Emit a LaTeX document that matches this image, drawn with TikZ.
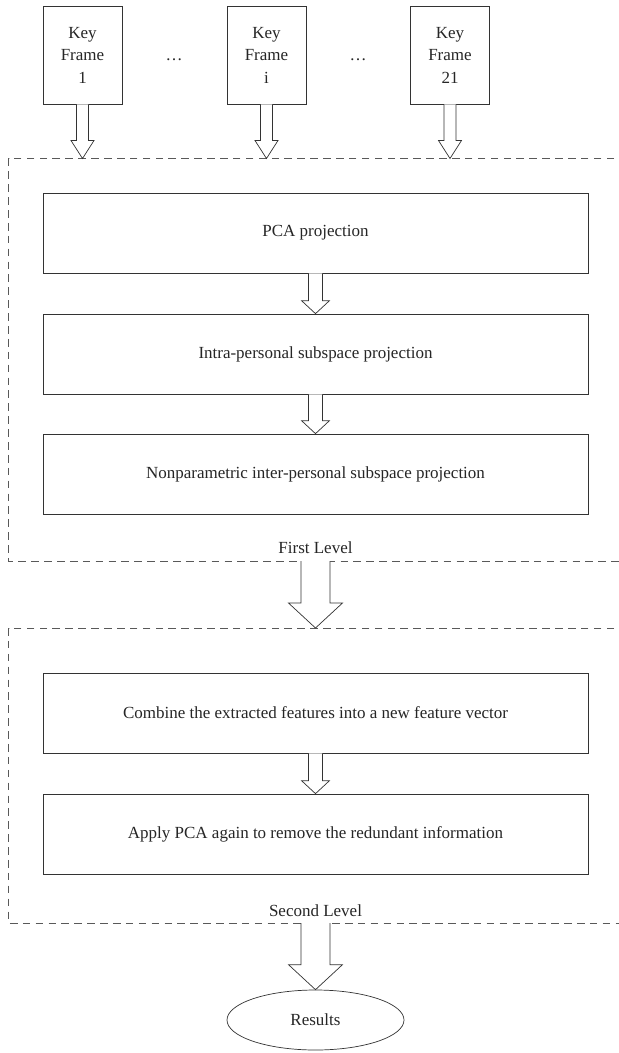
\documentclass[tikz,border=0pt]{standalone}
\usepackage{fontspec}
\setmainfont{Liberation Serif}
\usetikzlibrary{calc}
\usetikzlibrary{shapes.geometric}
\tikzset{every node/.style={font=\fontsize{14.5}{19.2}\selectfont, text=black!85},
framebox/.style={draw=black!80, line width=.6pt, minimum width=2.37cm, minimum height=2.94cm, align=center},
stagebox/.style={draw=black!80, line width=.6pt, minimum width=16.35cm, minimum height=2.4cm},
levelbox/.style={draw=black!65, line width=.6pt, dash pattern=on 6.5pt off 4.5pt},
fatline/.style={draw=black!80, fill=white, line width=.6pt}}
% block arrow: from, to, half shaft, half head, head length
\newcommand{\fatarrow}[5]{\draw[fatline] ($(#1)+(-#3,0)$) -- ($(#2)+(-#3,-#5)$) -- ($(#2)+(-#4,-#5)$) -- (#2) -- ($(#2)+(#4,-#5)$) -- ($(#2)+(#3,-#5)$) -- ($(#1)+(#3,0)$);}

\begin{document}
\begin{tikzpicture}[x=0.03cm,y=-0.03cm]
\clip (0,0) rectangle (619,1053);
\fill[white] (0,0) rectangle (619,1053);
% level boxes, open on the right
\draw[levelbox] (640,158.5) -- (8.5,158.5) -- (8.5,561) -- (640,561);
\draw[levelbox] (640,628) -- (8.5,628) -- (8.5,923) -- (640,923);
\coordinate (top1) at (315.5,158.5);
\coordinate (bot1) at (315.5,561);
\coordinate (top2) at (315.5,628);
\coordinate (bot2) at (315.5,923);
% key frames
\foreach \n/\x in {1/82.5,i/266.5,21/450}{
\node[framebox] (kf\n) at (\x,55) {Key\\Frame\\\n};
\coordinate (in\n) at (\x,158.5);
\fatarrow{kf\n.south}{in\n}{6}{11.5}{18}
}
\node (dots1) at (174,60) {\dots};
\node (dots2) at (358,60) {\dots};
% first level
\node[stagebox] (pca) at (315.5,233) {PCA projection};
\node[stagebox] (intra) at (315.5,354) {Intra-personal subspace projection};
\node[stagebox] (inter) at (315.5,474) {Nonparametric inter-personal subspace projection};
\fatarrow{pca.south}{intra.north}{7}{14}{13}
\fatarrow{intra.south}{inter.north}{7}{14}{13}
\node (lev1) at (315.5,548) {First Level};
\fatarrow{bot1}{top2}{14.5}{27}{25}
% second level
\node[stagebox] (comb) at (315.5,713) {Combine the extracted features into a new feature vector};
\node[stagebox] (again) at (315.5,834) {Apply PCA again to remove the redundant information};
\fatarrow{comb.south}{again.north}{7}{14}{13}
\node (lev2) at (315.5,911) {Second Level};
% results
\node[ellipse, draw=black!80, line width=.6pt, minimum width=5.31cm, minimum height=1.8cm] (res) at (315.5,1020) {Results};
\fatarrow{bot2}{res.north}{14.5}{27}{25}
\end{tikzpicture}
\end{document}
